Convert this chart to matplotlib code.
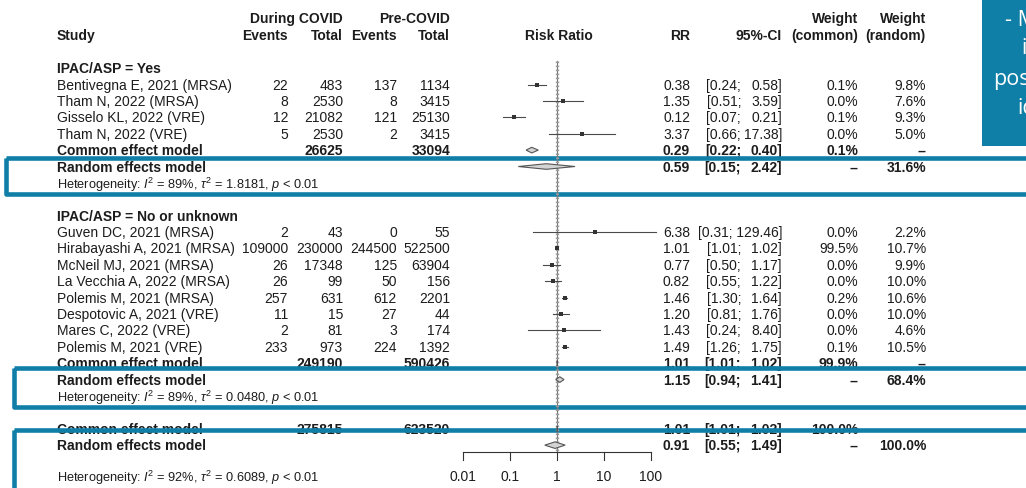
# -------------------------------------------------------------------------------------
# Library
import numpy as np
import matplotlib
matplotlib.use('Agg')
import matplotlib.pyplot as plt
from matplotlib.patches import Polygon, Rectangle
# -------------------------------------------------------------------------------------

# -------------------------------------------------------------------------------------
# Data - subgroup IPAC/ASP = Yes
study_yes = ["Bentivegna E, 2021 (MRSA)", "Tham N, 2022 (MRSA)",
             "Gisselo KL, 2022 (VRE)", "Tham N, 2022 (VRE)"]
ev_dur_yes = [22, 8, 12, 5]
tot_dur_yes = [483, 2530, 21082, 2530]
ev_pre_yes = [137, 8, 121, 2]
tot_pre_yes = [1134, 3415, 25130, 3415]
rr_yes = [0.38, 1.35, 0.12, 3.37]
lo_yes = [0.24, 0.51, 0.07, 0.66]
hi_yes = [0.58, 3.59, 0.21, 17.38]
wc_yes = [0.1, 0.0, 0.1, 0.0]
wr_yes = [9.8, 7.6, 9.3, 5.0]

# Data - subgroup IPAC/ASP = No or unknown
study_no = ["Guven DC, 2021 (MRSA)", "Hirabayashi A, 2021 (MRSA)", "McNeil MJ, 2021 (MRSA)",
            "La Vecchia A, 2022 (MRSA)", "Polemis M, 2021 (MRSA)", "Despotovic A, 2021 (VRE)",
            "Mares C, 2022 (VRE)", "Polemis M, 2021 (VRE)"]
ev_dur_no = [2, 109000, 26, 26, 257, 11, 2, 233]
tot_dur_no = [43, 230000, 17348, 99, 631, 15, 81, 973]
ev_pre_no = [0, 244500, 125, 50, 612, 27, 3, 224]
tot_pre_no = [55, 522500, 63904, 156, 2201, 44, 174, 1392]
rr_no = [6.38, 1.01, 0.77, 0.82, 1.46, 1.20, 1.43, 1.49]
lo_no = [0.31, 1.01, 0.50, 0.55, 1.30, 0.81, 0.24, 1.26]
hi_no = [129.46, 1.02, 1.17, 1.22, 1.64, 1.76, 8.40, 1.75]
wc_no = [0.0, 99.5, 0.0, 0.0, 0.2, 0.0, 0.0, 0.1]
wr_no = [2.2, 10.7, 9.9, 10.0, 10.6, 10.0, 4.6, 10.5]

# Pooled estimates: [subgroup yes, subgroup no, overall]
common_tot_dur = [26625, 249190, 275815]
common_tot_pre = [33094, 590426, 623520]
common_rr = [0.29, 1.01, 1.01]
common_lo = [0.22, 1.01, 1.01]
common_hi = [0.40, 1.02, 1.02]
common_w = [0.1, 99.9, 100.0]
random_rr = [0.59, 1.15, 0.91]
random_lo = [0.15, 0.94, 0.55]
random_hi = [2.42, 1.41, 1.49]
random_w = [31.6, 68.4, 100.0]
het_i2 = ["89%", "89%", "92%"]
het_tau2 = ["1.8181", "0.0480", "0.6089"]

axis_ticks = [0.01, 0.1, 1, 10, 100]
axis_labels = ["0.01", "0.1", "1", "10", "100"]
callout_lines = ["- M", "i", "pos", "id"]
# -------------------------------------------------------------------------------------

# -------------------------------------------------------------------------------------
# Layout settings (pixels)
W, H = 1026, 489
FONT = 'Liberation Sans'
TXT = '#1c1c1c'
BLUE = '#0f7fa8'
FS = 10
plt.rcParams['font.family'] = [FONT, 'DejaVu Sans']
plt.rcParams['mathtext.fontset'] = 'custom'
plt.rcParams['mathtext.rm'] = FONT
plt.rcParams['mathtext.it'] = FONT + ':italic'


def row_y(k):
    return 20.0 + 16.39 * k


x_study = 57
x_ev1, x_tot1, x_ev2, x_tot2 = 288, 343, 397, 450
x_rr, x_lo, x_ci, x_wc, x_wr = 690, 741, 782, 858, 926
# -------------------------------------------------------------------------------------

fig = plt.figure(figsize=(W / 100, H / 100), dpi=100)
tx = fig.add_axes([0, 0, 1, 1])
tx.set_xlim(0, W)
tx.set_ylim(H, 0)
tx.axis('off')

# forest axis: 0.01 at x=463 px, 100 at x=651 px
ax = fig.add_axes([463 / W, 0, 188 / W, 1])
ax.set_xscale('log')
ax.set_xlim(0.01, 100)
ax.set_ylim(H, 0)
ax.axis('off')


def put(x, y, s, ha='right', bold=False, size=FS, color=TXT):
    tx.text(x, y, s, ha=ha, va='center', fontsize=size, color=color,
            fontweight='bold' if bold else 'normal')


def put_ci(y, lo, hi, bold=False):
    if hi >= 100:
        put(x_ci, y, "[%.2f; %.2f]" % (lo, hi), bold=bold)
    else:
        put(x_lo, y, "[%.2f;" % lo, bold=bold)
        put(x_ci, y, "%.2f]" % hi, bold=bold)


def diamond(y, est, lo, hi, h=2.8):
    ax.add_patch(Polygon([[lo, y], [est, y - h], [hi, y], [est, y + h]], closed=True,
                         facecolor='#d4d4d4', edgecolor='#555555', lw=0.8, clip_on=False, zorder=4))


# Header
put(x_tot1, row_y(0) - 1, "During COVID", bold=True)
put(x_tot2, row_y(0) - 1, "Pre-COVID", bold=True)
put(x_wc, row_y(0) - 1, "Weight", bold=True)
put(x_wr, row_y(0) - 1, "Weight", bold=True)
put(x_study, row_y(1), "Study", ha='left', bold=True)
put(x_ev1, row_y(1), "Events", bold=True)
put(x_tot1, row_y(1), "Total", bold=True)
put(x_ev2, row_y(1), "Events", bold=True)
put(x_tot2, row_y(1), "Total", bold=True)
put(559, row_y(1), "Risk Ratio", ha='center', bold=True)
put(x_rr, row_y(1), "RR", bold=True)
put(x_ci, row_y(1), "95%-CI", bold=True)
put(x_wc, row_y(1), "(common)", bold=True)
put(x_wr, row_y(1), "(random)", bold=True)

groups = [
    ("IPAC/ASP = Yes", 3, study_yes, ev_dur_yes, tot_dur_yes, ev_pre_yes, tot_pre_yes,
     rr_yes, lo_yes, hi_yes, wc_yes, wr_yes),
    ("IPAC/ASP = No or unknown", 12, study_no, ev_dur_no, tot_dur_no, ev_pre_no, tot_pre_no,
     rr_no, lo_no, hi_no, wc_no, wr_no),
]

for g, (title, k0, names, e1, t1, e2, t2, rr, lo, hi, wc, wr) in enumerate(groups):
    put(x_study, row_y(k0), title, ha='left', bold=True)
    for i in range(len(names)):
        y = row_y(k0 + 1 + i)
        put(x_study, y, names[i], ha='left')
        put(x_ev1, y, str(e1[i]))
        put(x_tot1, y, str(t1[i]))
        put(x_ev2, y, str(e2[i]))
        put(x_tot2, y, str(t2[i]))
        put(x_rr, y, "%.2f" % rr[i])
        put_ci(y, lo[i], hi[i])
        put(x_wc, y, "%.1f%%" % wc[i])
        put(x_wr, y, "%.1f%%" % wr[i])
        ax.plot([lo[i], hi[i]], [y, y], color='#4a4a4a', lw=0.8, clip_on=False, zorder=3)
        ax.plot([rr[i]], [y], marker='s', ms=2.6, color='#333333', mew=0, clip_on=False, zorder=4)

    kc = k0 + 1 + len(names)
    yc, yr, yh = row_y(kc), row_y(kc + 1), row_y(kc + 2)
    put(x_study, yc, "Common effect model", ha='left', bold=True)
    put(x_tot1, yc, str(common_tot_dur[g]), bold=True)
    put(x_tot2, yc, str(common_tot_pre[g]), bold=True)
    put(x_rr, yc, "%.2f" % common_rr[g], bold=True)
    put_ci(yc, common_lo[g], common_hi[g], bold=True)
    put(x_wc, yc, "%.1f%%" % common_w[g], bold=True)
    put(x_wr, yc, "--", bold=True)
    diamond(yc, common_rr[g], common_lo[g], common_hi[g])

    put(x_study, yr, "Random effects model", ha='left', bold=True)
    put(x_rr, yr, "%.2f" % random_rr[g], bold=True)
    put_ci(yr, random_lo[g], random_hi[g], bold=True)
    put(x_wc, yr, "--", bold=True)
    put(x_wr, yr, "%.1f%%" % random_w[g], bold=True)
    diamond(yr, random_rr[g], random_lo[g], random_hi[g])

    put(x_study, yh + 1, r"Heterogeneity: $I^2$ = %s, $\tau^2$ = %s, $p$ < 0.01" % (het_i2[g], het_tau2[g]),
        ha='left', size=9.2)

# Overall
yc, yr, yh = row_y(25), row_y(26), row_y(28) - 1
put(x_study, yc, "Common effect model", ha='left', bold=True)
put(x_tot1, yc, str(common_tot_dur[2]), bold=True)
put(x_tot2, yc, str(common_tot_pre[2]), bold=True)
put(x_rr, yc, "%.2f" % common_rr[2], bold=True)
put_ci(yc, common_lo[2], common_hi[2], bold=True)
put(x_wc, yc, "%.1f%%" % common_w[2], bold=True)
put(x_wr, yc, "--", bold=True)
diamond(yc, common_rr[2], common_lo[2], common_hi[2])
put(x_study, yr, "Random effects model", ha='left', bold=True)
put(x_rr, yr, "%.2f" % random_rr[2], bold=True)
put_ci(yr, random_lo[2], random_hi[2], bold=True)
put(x_wc, yr, "--", bold=True)
put(x_wr, yr, "%.1f%%" % random_w[2], bold=True)
diamond(yr, random_rr[2], random_lo[2], random_hi[2], h=3.3)
put(x_study, yh, r"Heterogeneity: $I^2$ = %s, $\tau^2$ = %s, $p$ < 0.01" % (het_i2[2], het_tau2[2]),
    ha='left', size=9.2)

# Reference line and common effect line
y_top, y_axis = 62, 453
ax.plot([1, 1], [y_top, y_axis], color='#777777', lw=0.8, clip_on=False, zorder=2)
ax.plot([1.01, 1.01], [y_top, y_axis], color='#9a9a9a', lw=2.4, dashes=(0.5, 0.7),
        clip_on=False, zorder=2)

# x axis (ticks point down)
ax.plot([axis_ticks[0], axis_ticks[-1]], [y_axis, y_axis], color='#333333', lw=0.8, clip_on=False)
for t, lab in zip(axis_ticks, axis_labels):
    ax.plot([t, t], [y_axis, y_axis + 8], color='#333333', lw=0.8, clip_on=False)
    ax.text(t, row_y(28) - 2, lab, ha='center', va='center', fontsize=FS, color=TXT)

# Highlight boxes
lw_box = 3.3
for (x0, y0, y1) in [(5.5, 159, 195), (14, 369, 408), (14, 430.5, 491)]:
    tx.add_patch(Rectangle((x0, y0), W + 20 - x0, y1 - y0, fill=False, edgecolor=BLUE,
                           lw=lw_box, joinstyle='round', clip_on=False, zorder=10))

# Callout box at top right (its text runs past the right edge, as in the source)
tx.add_patch(Rectangle((982, -5), 60, 152, facecolor=BLUE, edgecolor='none', zorder=9))
for (xc, yc_, s) in zip([1005, 1021, 993, 1017], [21, 49, 79, 108], callout_lines):
    tx.text(xc, yc_, s, ha='left', va='center', fontsize=15.5, color='white',
            family=['Open Sans', 'DejaVu Sans'], zorder=11)

fig.savefig('out.png', dpi=100)
